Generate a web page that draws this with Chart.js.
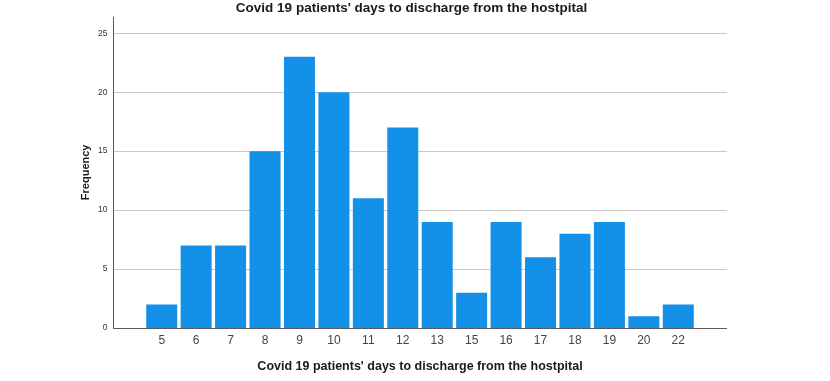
<!DOCTYPE html>
<html>
<head>
<meta charset="utf-8">
<script src="https://cdn.jsdelivr.net/npm/chart.js@4/dist/chart.umd.min.js"></script>
<style>
html,body{margin:0;padding:0;background:#fff;}
#wrap{width:830px;height:381px;}
</style>
</head>
<body>
<div id="wrap"><canvas id="c" width="830" height="381"></canvas></div>
<script>
const categories = ['5','6','7','8','9','10','11','12','13','15','16','17','18','19','20','22'];
const frequencies = [2,7,7,15,23,20,11,17,9,3,9,6,8,9,1,2];
const yTicks = [0,5,10,15,20,25];
const titleText = "Covid 19 patients' days to discharge from the hostpital";

const FONT = "'Liberation Sans', Arial, sans-serif";

const frame = {
  id: 'frame',
  beforeDatasetsDraw(chart) {
    const {ctx, chartArea, scales} = chart;
    const y = scales.y;
    const slot = (chartArea.right - chartArea.left) / categories.length;
    const x0 = chartArea.left - slot * 0.915;
    const x1 = chartArea.right + slot * 0.915;
    ctx.save();
    ctx.strokeStyle = '#c8c8c8';
    ctx.lineWidth = 1;
    yTicks.forEach(v => {
      if (v === 0) return;
      const py = Math.round(y.getPixelForValue(v)) + 0.5;
      ctx.beginPath(); ctx.moveTo(x0, py); ctx.lineTo(x1, py); ctx.stroke();
    });
    ctx.restore();
  },
  afterDatasetsDraw(chart) {
    const {ctx, chartArea, scales} = chart;
    const y = scales.y;
    const slot = (chartArea.right - chartArea.left) / categories.length;
    const x0 = Math.round(chartArea.left - slot * 0.915) + 0.5;
    const x1 = chartArea.right + slot * 0.915;
    const yb = Math.round(y.getPixelForValue(0)) + 0.5;
    ctx.save();
    ctx.strokeStyle = '#5a5a5a';
    ctx.lineWidth = 1;
    ctx.beginPath(); ctx.moveTo(x0, chartArea.top); ctx.lineTo(x0, yb); ctx.lineTo(x1, yb); ctx.stroke();
    ctx.restore();
  }
};

new Chart(document.getElementById('c'), {
  type: 'bar',
  data: {
    labels: categories,
    datasets: [{
      data: frequencies,
      backgroundColor: '#1390e8',
      borderWidth: 0,
      categoryPercentage: 1,
      barPercentage: 0.9
    }]
  },
  options: {
    responsive: false,
    animation: false,
    layout: { padding: { left: 0, right: 7, top: 0, bottom: 7 } },
    plugins: {
      legend: { display: false },
      tooltip: { enabled: false },
      title: {
        display: true,
        text: titleText,
        color: '#1a1a1a',
        font: { family: FONT, size: 13.5, weight: 'bold' },
        padding: { top: 0.5, bottom: 0 }
      }
    },
    scales: {
      x: {
        grid: { display: false, drawTicks: false },
        border: { display: false },
        ticks: { color: '#444', font: { family: FONT, size: 12 }, padding: 5.5, maxRotation: 0 },
        title: {
          display: true,
          text: titleText,
          color: '#1a1a1a',
          font: { family: FONT, size: 12.5, weight: 'bold' },
          padding: { top: 5.6, bottom: 0 }
        }
      },
      y: {
        min: 0,
        max: 26.4,
        grid: { display: false, drawTicks: false },
        border: { display: false },
        afterBuildTicks(scale) { scale.ticks = yTicks.map(v => ({ value: v })); },
        afterFit(scale) { scale.width = 144.5; scale.paddingTop = 4; scale.paddingBottom = 4; },
        ticks: { color: '#333', font: { family: FONT, size: 8.5 }, padding: 37 },
        title: {
          display: true,
          text: 'Frequency',
          color: '#1a1a1a',
          font: { family: FONT, size: 11, weight: 'bold' },
          padding: { top: 79, bottom: 0 }
        }
      },
      spacer: {
        type: 'linear',
        position: 'right',
        display: true,
        grid: { display: false, drawTicks: false },
        border: { display: false },
        ticks: { display: false },
        afterFit(scale) { scale.width = 830 - 7 - 695.5; scale.paddingTop = 0; scale.paddingBottom = 0; }
      }
    }
  },
  plugins: [frame]
});
</script>
</body>
</html>
